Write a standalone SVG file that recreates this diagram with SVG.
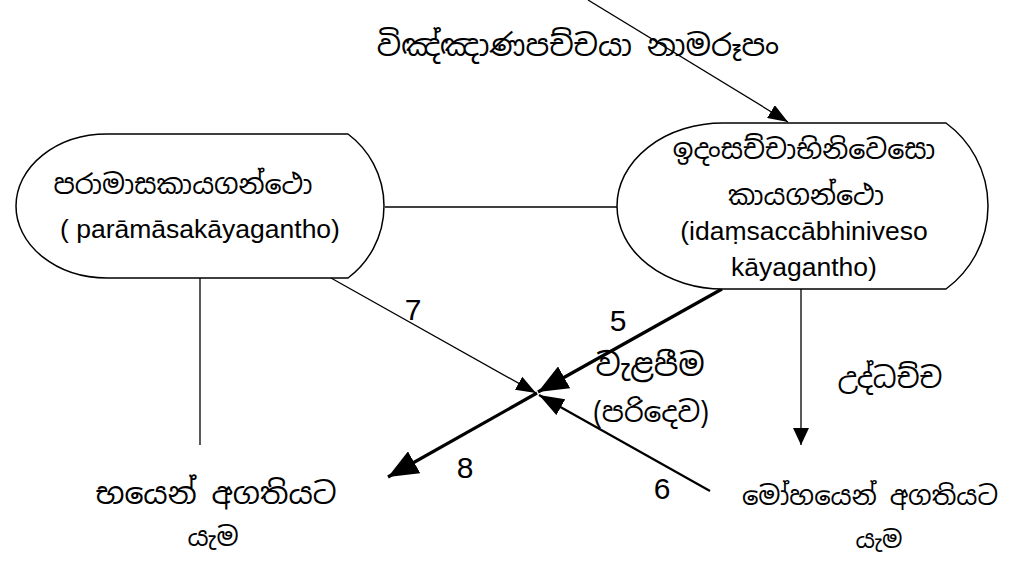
<svg xmlns="http://www.w3.org/2000/svg" width="1015" height="565" viewBox="0 0 1015 565">
<style>
.shape{fill:#fff;stroke:#000;stroke-width:1.5}
.si{font-family:"Noto Sans Sinhala","Iskoola Pota","Noto Sans",sans-serif;fill:#000;text-anchor:middle}
.en{font-family:"Liberation Sans",Arial,sans-serif;fill:#000;text-anchor:middle}
.num{font-family:"Liberation Sans",Arial,sans-serif;fill:#000;text-anchor:middle;font-size:30px}
.thin{stroke:#000;stroke-width:1.3;fill:none}
.med{stroke:#000;stroke-width:2.2;fill:none}
.thick{stroke:#000;stroke-width:3.2;fill:none}
</style>
<defs>
<marker id="aS" markerUnits="userSpaceOnUse" markerWidth="21" markerHeight="15" refX="20" refY="7.5" orient="auto"><path d="M0,0 L20,7.5 L0,15 Z" fill="#000"/></marker>
<marker id="aM" markerUnits="userSpaceOnUse" markerWidth="26" markerHeight="18" refX="25" refY="9" orient="auto"><path d="M0,0 L25,9 L0,18 Z" fill="#000"/></marker>
<marker id="aL" markerUnits="userSpaceOnUse" markerWidth="31" markerHeight="25" refX="30" refY="12.5" orient="auto"><path d="M0,0 L30,12.5 L0,25 Z" fill="#000"/></marker>
<marker id="aV" markerUnits="userSpaceOnUse" markerWidth="18" markerHeight="17" refX="17" refY="8" orient="auto"><path d="M0,0 L17,8 L0,16 Z" fill="#000"/></marker>
</defs>
<g id="connectors">
<line class="thin" x1="385" y1="207" x2="617" y2="207"/>
<line class="thin" x1="588" y1="0" x2="788" y2="122" marker-end="url(#aS)"/>
<line class="thin" x1="200" y1="278" x2="200" y2="445"/>
<line class="thin" x1="331" y1="278" x2="536" y2="393" marker-end="url(#aS)"/>
<line class="thick" x1="722" y1="289" x2="538" y2="392" marker-end="url(#aL)"/>
<line class="thick" x1="537" y1="393" x2="388" y2="477" marker-end="url(#aL)"/>
<line class="med" x1="710" y1="491" x2="539" y2="395" marker-end="url(#aM)"/>
<line class="thin" x1="801" y1="289" x2="801" y2="445" marker-end="url(#aV)"/>
<text class="num" x="413" y="320">7</text>
<text class="num" x="618" y="331">5</text>
<text class="num" x="465" y="478">8</text>
<text class="num" x="662" y="499">6</text>
</g>
<g id="top-label">
<text class="si" x="578" y="56" font-size="30">විඤ්ඤාණපච්චයා නාමරූපං</text>
</g>
<g id="node-paramasa">
<path class="shape" d="M107,134 L348,134 A90,90 0 0 1 348,278 L107,278 A91,72 0 0 1 107,134 Z"/>
<text class="si" x="183" y="194" font-size="27">පරාමාසකායගන්ථො</text>
<text class="en" x="200" y="238" font-size="26.5">( parāmāsakāyagantho)</text>
</g>
<g id="node-idamsacca">
<path class="shape" d="M723,123 L946,123 A103,103 0 0 1 946,289 L723,289 A106,83 0 0 1 723,123 Z"/>
<text class="si" x="804" y="159" font-size="27">ඉදංසච්චාභිනිවෙසො</text>
<text class="si" x="806" y="205" font-size="27">කායගන්ථො</text>
<text class="en" x="804" y="240" font-size="26.5">(idaṃsaccābhiniveso</text>
<text class="en" x="804" y="276" font-size="26.5">kāyagantho)</text>
</g>
<g id="label-valapima">
<text class="si" x="650" y="376" font-size="31">වැළපීම</text>
<text class="si" x="651" y="422" font-size="28">(පරිදෙව)</text>
</g>
<g id="label-uddhacca">
<text class="si" x="890" y="388" font-size="28">උද්ධච්ච</text>
</g>
<g id="node-bhaya">
<text class="si" x="216" y="504" font-size="30">භයෙන් අගතියට</text>
<text class="si" x="213" y="546" font-size="26">යැම</text>
</g>
<g id="node-moha">
<text class="si" x="870" y="505" font-size="26">මෝහයෙන් අගතියට</text>
<text class="si" x="879" y="548" font-size="24">යැම</text>
</g>
</svg>
